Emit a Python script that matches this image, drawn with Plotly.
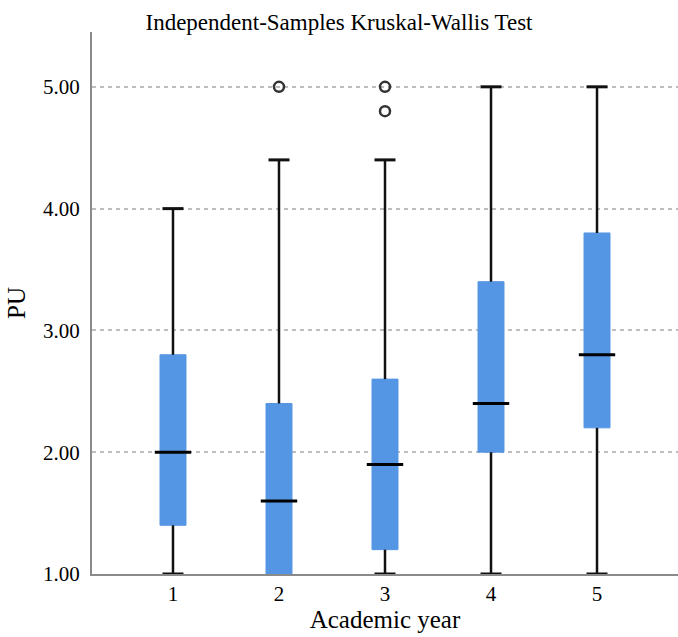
import plotly.graph_objects as go

years = [1, 2, 3, 4, 5]
year_labels = ["1", "2", "3", "4", "5"]
lower_whisker = [1.0, 1.0, 1.0, 1.0, 1.0]
q1 = [1.4, 1.0, 1.2, 2.0, 2.2]
median = [2.0, 1.6, 1.9, 2.4, 2.8]
q3 = [2.8, 2.4, 2.6, 3.4, 3.8]
upper_whisker = [4.0, 4.4, 4.4, 5.0, 5.0]
outlier_x = [2, 3, 3]
outlier_y = [5.0, 5.0, 4.8]
y_ticks = [1, 2, 3, 4, 5]

BLUE = "#5596E4"
BOXW = 0.245

fig = go.Figure()

# boxes (blue body only)
fig.add_trace(go.Box(
    x=years, q1=q1, median=median, q3=q3,
    lowerfence=q1, upperfence=q3,
    fillcolor=BLUE, line=dict(color=BLUE, width=1),
    width=BOXW, whiskerwidth=0, boxpoints=False,
    hoverinfo="skip", showlegend=False,
))

# whiskers
wx, wy = [], []
for x, lo, a, b, hi in zip(years, lower_whisker, q1, q3, upper_whisker):
    if lo < a:
        wx += [x, x, None]
        wy += [lo, a, None]
    if hi > b:
        wx += [x, x, None]
        wy += [b, hi, None]
fig.add_trace(go.Scatter(x=wx, y=wy, mode="lines",
                         line=dict(color="#111111", width=2.5),
                         hoverinfo="skip", showlegend=False))

# caps
cx, cy = [], []
for x, lo, a, b, hi in zip(years, lower_whisker, q1, q3, upper_whisker):
    if lo < a:
        cx.append(x); cy.append(lo)
    if hi > b:
        cx.append(x); cy.append(hi)
fig.add_trace(go.Scatter(x=cx, y=cy, mode="markers",
                         marker=dict(symbol="line-ew", size=15,
                                     line=dict(color="#111111", width=3)),
                         hoverinfo="skip", showlegend=False))

# medians
fig.add_trace(go.Scatter(x=years, y=median, mode="markers",
                         marker=dict(symbol="line-ew", size=26,
                                     line=dict(color="#000000", width=3)),
                         hoverinfo="skip", showlegend=False))

# outliers
fig.add_trace(go.Scatter(x=outlier_x, y=outlier_y, mode="markers",
                         marker=dict(symbol="circle-open", size=10,
                                     color="#333333",
                                     line=dict(color="#333333", width=2.5)),
                         hoverinfo="skip", showlegend=False))

FONT = "Liberation Serif"
fig.update_layout(
    width=678, height=637,
    margin=dict(l=92, r=0, t=32, b=63),
    paper_bgcolor="white", plot_bgcolor="white",
    font=dict(family=FONT, color="black", size=21),
    title=dict(text="Independent-Samples Kruskal-Wallis Test",
               x=0.5, xanchor="center", y=1 - 22 / 637, yanchor="middle",
               xref="container", yref="container",
               font=dict(family=FONT, size=23, color="black")),
    showlegend=False,
)
fig.update_xaxes(
    range=[0.236, 5.764], tickvals=years, ticktext=year_labels,
    showgrid=False, zeroline=False,
    showline=True, linecolor="#8a8a8a", linewidth=2,
    ticks="", tickfont=dict(family=FONT, size=21, color="black"),
    title=dict(text="Academic year", standoff=2,
               font=dict(family=FONT, size=25, color="black")),
)
fig.update_yaxes(
    range=[1.0, 5.45], tickvals=y_ticks,
    ticktext=[f"{v:.2f}" for v in y_ticks],
    showgrid=True, gridcolor="#bdbdbd", gridwidth=2, griddash="4px,4px",
    zeroline=False,
    showline=True, linecolor="#8a8a8a", linewidth=2,
    ticks="", ticklabelstandoff=6,
    tickfont=dict(family=FONT, size=21, color="black"),
    title=dict(text="PU", standoff=10,
               font=dict(family=FONT, size=25, color="black")),
)

fig.write_html(
    "out.html",
    config={"displayModeBar": False},
    post_script=("document.body.style.margin='0';"
                 "document.body.style.overflow='hidden';"
                 "document.documentElement.style.overflow='hidden';"),
)
